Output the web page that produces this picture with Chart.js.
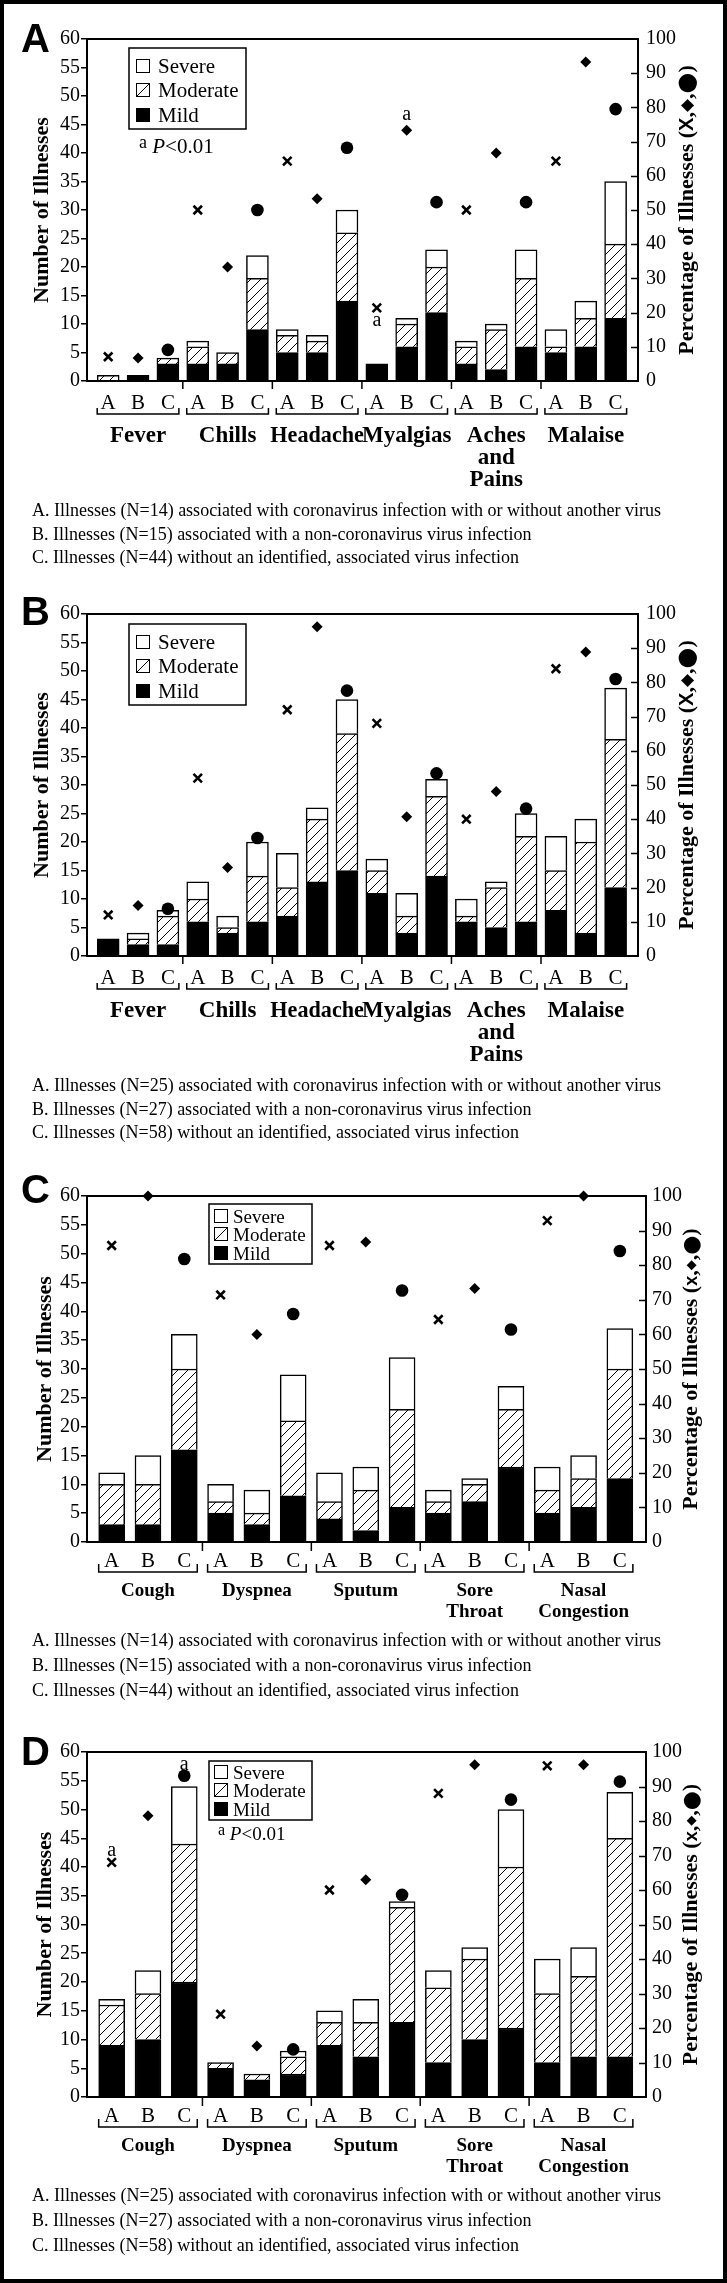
<!DOCTYPE html>
<html>
<head>
<meta charset="utf-8">
<script src="https://cdn.jsdelivr.net/npm/chart.js@4.4.0/dist/chart.umd.min.js"></script>
<style>
  html, body { margin: 0; padding: 0; background: #fff; }
  #page { position: relative; width: 727px; height: 2283px; overflow: hidden; background: #fff; }
  #page canvas { position: absolute; left: 0; }
  #frame { position: absolute; left: 0; top: 0; width: 727px; height: 2283px; box-sizing: border-box; border: 4px solid #000; pointer-events: none; }
</style>
</head>
<body>
<div id="page">
  <canvas id="panelA" width="727" height="570" style="top:0px"></canvas>
  <canvas id="panelB" width="727" height="578" style="top:570px"></canvas>
  <canvas id="panelC" width="727" height="557" style="top:1148px"></canvas>
  <canvas id="panelD" width="727" height="578" style="top:1705px"></canvas>
  <div id="frame"></div>
</div>
<script>
// ==== Data ====
const barLetters = ['A', 'B', 'C'];
const systemicSymptoms = [['Fever'], ['Chills'], ['Headache'], ['Myalgias'], ['Aches', 'and', 'Pains'], ['Malaise']];
const respiratorySymptoms = [['Cough'], ['Dyspnea'], ['Sputum'], ['Sore', 'Throat'], ['Nasal', 'Congestion']];

// bars are listed symptom by symptom, A B C inside each symptom
const aMild     = [0, 1, 3,  3, 3, 9,  5, 5, 14,  3, 6, 12,  3, 2, 6,  5, 6, 11];
const aModerate = [1, 0, 1,  3, 2, 9,  3, 2, 12,  0, 4, 8,   3, 7, 12, 1, 5, 13];
const aSevere   = [0, 0, 0,  1, 0, 4,  1, 1, 4,   0, 1, 3,   1, 1, 5,  3, 3, 11];
const aPctX       = [7.1, 50, 64.3, 21.4, 50, 64.3];
const aPctDiamond = [6.7, 33.3, 53.3, 73.3, 66.7, 93.3];
const aPctCircle  = [9.1, 50, 68.2, 52.3, 52.3, 79.5];

const bMild     = [3, 2, 2,  6, 4, 6,  7, 13, 15,  11, 4, 14,  6, 5, 6,   8, 4, 12];
const bModerate = [0, 1, 5,  4, 1, 8,  5, 11, 24,  4, 3, 14,   1, 7, 15,  7, 16, 26];
const bSevere   = [0, 1, 1,  3, 2, 6,  6, 2, 6,    2, 4, 3,    3, 1, 4,   6, 4, 9];
const bPctX       = [12, 52, 72, 68, 40, 84];
const bPctDiamond = [14.8, 25.9, 96.3, 40.7, 48.1, 88.9];
const bPctCircle  = [13.8, 34.5, 77.6, 53.4, 43.1, 81.0];

const cMild     = [3, 3, 16,  5, 3, 8,   4, 2, 6,   5, 7, 13,  5, 6, 11];
const cModerate = [7, 7, 14,  2, 2, 13,  3, 7, 17,  2, 3, 10,  4, 5, 19];
const cSevere   = [2, 5, 6,   3, 4, 8,   5, 4, 9,   2, 1, 4,   4, 4, 7];
const cPctX       = [85.7, 71.4, 85.7, 64.3, 92.9];
const cPctDiamond = [100, 60, 86.7, 73.3, 100];
const cPctCircle  = [81.8, 65.9, 72.7, 61.4, 84.1];

const dMild     = [9, 10, 20,  5, 3, 4,  9, 7, 13,  6, 10, 12,  6, 7, 7];
const dModerate = [7, 8, 24,   1, 1, 3,  4, 6, 20,  13, 14, 28, 12, 14, 38];
const dSevere   = [1, 4, 10,   0, 0, 1,  2, 4, 1,   3, 2, 10,  6, 5, 8];
const dPctX       = [68, 24, 60, 88, 96];
const dPctDiamond = [81.5, 14.8, 63, 96.3, 96.3];
const dPctCircle  = [93.1, 13.8, 58.6, 86.2, 91.4];

const notes14 = [
  'A. Illnesses (N=14) associated with coronavirus infection with or without another virus',
  'B. Illnesses (N=15) associated with a non-coronavirus virus infection',
  'C. Illnesses (N=44) without an identified, associated virus infection'
];
const notes25 = [
  'A. Illnesses (N=25) associated with coronavirus infection with or without another virus',
  'B. Illnesses (N=27) associated with a non-coronavirus virus infection',
  'C. Illnesses (N=58) without an identified, associated virus infection'
];
const legendLabels = ['Severe', 'Moderate', 'Mild'];

// ==== Fonts / defaults ====
const SERIF = "'Liberation Serif', 'Times New Roman', serif";
const SANS = "'Liberation Sans', Arial, sans-serif";
const SYM = "'DejaVu Sans', sans-serif";
Chart.defaults.font.family = SERIF;
Chart.defaults.color = '#000';

// ==== Layout of each panel ====
const wide = {
  xPad: [-0.71, 0.75], barW: 22, y2Pad: 8,
  letterY: 28, bracketY: 33, tip: 6, sepTick: 8,
  labelY: [61, 83, 105], labelFont: 23, noteY: [135, 159, 182],
  leftTitleX: 40, rightTitleX: 685,
  legendFont: 21, swatchX: 7, legendTextX: 29, big: true
};
const narrow = {
  xPad: [-0.68, 0.72], barW: 26, y2Pad: 6,
  letterY: 25, bracketY: 30, tip: 8, sepTick: 9,
  labelY: [54, 75], labelFont: 19, noteY: [104, 129, 154],
  leftTitleX: 43, rightTitleX: 689,
  legendFont: 19, swatchX: 5, legendTextX: 24, big: false
};

const panels = [
  Object.assign({}, wide, {
    id: 'panelA', letter: 'A', letterBase: 52,
    plot: { l: 87, r: 638, t: 39, b: 381 },
    groups: systemicSymptoms, mild: aMild, moderate: aModerate, severe: aSevere,
    pctX: aPctX, pctD: aPctDiamond, pctC: aPctCircle, notes: notes14,
    legend: { x: 129, y: 48, w: 117, h: 81, rows: [18, 42, 67] },
    pNote: { x: 139, y: 153, size: 21 },
    marks: [{ bar: 9, set: 'X', g: 3, dy: 14 }, { bar: 10, set: 'D', g: 3, dy: -14 }]
  }),
  Object.assign({}, wide, {
    id: 'panelB', letter: 'B', letterBase: 55,
    plot: { l: 87, r: 638, t: 44, b: 386 },
    groups: systemicSymptoms, mild: bMild, moderate: bModerate, severe: bSevere,
    pctX: bPctX, pctD: bPctDiamond, pctC: bPctCircle, notes: notes25,
    legend: { x: 129, y: 54, w: 117, h: 81, rows: [18, 42, 67] },
    pNote: null, marks: []
  }),
  Object.assign({}, narrow, {
    id: 'panelC', letter: 'C', letterBase: 55,
    plot: { l: 87, r: 646, t: 48, b: 394 },
    groups: respiratorySymptoms, mild: cMild, moderate: cModerate, severe: cSevere,
    pctX: cPctX, pctD: cPctDiamond, pctC: cPctCircle, notes: notes14,
    legend: { x: 209, y: 56, w: 103, h: 60, rows: [12, 30, 49] },
    pNote: null, marks: []
  }),
  Object.assign({}, narrow, {
    id: 'panelD', letter: 'D', letterBase: 60,
    plot: { l: 87, r: 646, t: 47, b: 392 },
    groups: respiratorySymptoms, mild: dMild, moderate: dModerate, severe: dSevere,
    pctX: dPctX, pctD: dPctDiamond, pctC: dPctCircle, notes: notes25,
    legend: { x: 209, y: 56, w: 103, h: 59, rows: [11, 29, 48] },
    pNote: { x: 218, y: 135, size: 19 },
    marks: [{ bar: 0, set: 'X', g: 0, dy: -10 }, { bar: 2, set: 'C', g: 0, dy: -10 }]
  })
];

// ==== Helpers ====
function makeHatch(ctx) {
  const c = document.createElement('canvas');
  c.width = 10; c.height = 10;
  const g = c.getContext('2d');
  g.fillStyle = '#fff';
  g.fillRect(0, 0, 10, 10);
  g.strokeStyle = '#000';
  g.lineWidth = 1;
  g.beginPath();
  g.moveTo(0, 10); g.lineTo(10, 0);
  g.moveTo(-2, 2); g.lineTo(2, -2);
  g.moveTo(8, 12); g.lineTo(12, 8);
  g.stroke();
  return ctx.createPattern(c, 'repeat');
}

function line(ctx, x0, y0, x1, y1) {
  ctx.beginPath();
  ctx.moveTo(x0, y0);
  ctx.lineTo(x1, y1);
  ctx.stroke();
}

function text(ctx, s, x, y, font, align, maxW) {
  ctx.font = font;
  ctx.textAlign = align || 'left';
  ctx.textBaseline = 'alphabetic';
  if (maxW) ctx.fillText(s, x, y, maxW);
  else ctx.fillText(s, x, y);
}

// draws a list of [text, font, baseline shift] runs one after the other
function runs(ctx, parts, x, y) {
  let cx = x;
  parts.forEach(([s, font, dy]) => {
    ctx.font = font;
    ctx.textAlign = 'left';
    ctx.textBaseline = 'alphabetic';
    ctx.fillText(s, cx, y + (dy || 0));
    cx += ctx.measureText(s).width;
  });
  return cx - x;
}

function runsWidth(ctx, parts) {
  return parts.reduce((w, [s, font]) => { ctx.font = font; return w + ctx.measureText(s).width; }, 0);
}

// ==== Decorations: frame, x labels, legend, titles, notes ====
function decor(p) {
  return {
    id: 'decor',
    afterDraw(chart) {
      const { ctx, chartArea: a } = chart;
      const x = chart.scales.x, y2 = chart.scales.y2;
      const zero = a.bottom;
      ctx.save();
      ctx.strokeStyle = '#000';
      ctx.fillStyle = '#000';

      // plot frame
      ctx.lineWidth = 2;
      ctx.strokeRect(a.left, a.top, a.right - a.left, a.bottom - a.top);

      // right axis ticks point inwards
      ctx.lineWidth = 1.5;
      for (let v = 10; v < 100; v += 10) {
        const yy = Math.round(y2.getPixelForValue(v)) + 0.5;
        line(ctx, a.right - 7, yy, a.right, yy);
      }

      // group separators under the axis
      for (let g = 1; g < p.groups.length; g++) {
        const xx = x.getPixelForValue(g * 3 - 0.5);
        line(ctx, xx, zero, xx, zero + p.sepTick);
      }

      // A B C letters, brackets and symptom names
      const half = p.barW / 2;
      const slot = x.getPixelForValue(1) - x.getPixelForValue(0);
      p.groups.forEach((names, g) => {
        barLetters.forEach((b, k) => {
          text(ctx, b, x.getPixelForValue(g * 3 + k), zero + p.letterY, '21px ' + SERIF, 'center');
        });
        const x0 = x.getPixelForValue(g * 3) - half;
        const x1 = x.getPixelForValue(g * 3 + 2) + half;
        const by = zero + p.bracketY;
        ctx.lineWidth = 1.5;
        ctx.beginPath();
        ctx.moveTo(x0, by - p.tip); ctx.lineTo(x0, by); ctx.lineTo(x1, by); ctx.lineTo(x1, by - p.tip);
        ctx.stroke();
        const cx = x.getPixelForValue(g * 3 + 1);
        names.forEach((s, j) => {
          text(ctx, s, cx, zero + p.labelY[j], 'bold ' + p.labelFont + 'px ' + SERIF, 'center', slot * 3 + 4);
        });
      });

      // footnotes, squeezed like the original
      ctx.font = '18px ' + SERIF;
      const sx = Math.min(1, 659 / ctx.measureText(p.notes[0]).width);
      p.notes.forEach((s, k) => {
        ctx.save();
        ctx.translate(32, zero + p.noteY[k]);
        ctx.scale(sx, 1);
        text(ctx, s, 0, 0, '18px ' + SERIF, 'left');
        ctx.restore();
      });

      // panel letter
      text(ctx, p.letter, 21, p.letterBase, 'bold 40px ' + SANS, 'left');

      // left axis title
      const midY = (a.top + a.bottom) / 2;
      ctx.save();
      ctx.translate(p.leftTitleX, midY);
      ctx.rotate(-Math.PI / 2);
      text(ctx, 'Number of Illnesses', 0, 7.5, 'bold 22px ' + SERIF, 'center');
      ctx.restore();

      // right axis title with marker glyphs
      const tf = 'bold 22px ' + SERIF;
      const title = p.big ? [
        ['Percentage of Illnesses (', tf, 0],
        ['X', 'bold 20px ' + SANS, 0],
        [',', tf, 0],
        ['\u25C6', '17px ' + SYM, -1],
        [',', tf, 0],
        ['\u25CF', '24px ' + SYM, 1],
        [')', tf, 0]
      ] : [
        ['Percentage of Illnesses (', tf, 0],
        ['x', 'bold 18px ' + SANS, 0],
        [',', tf, 0],
        ['\u25C6', '13px ' + SYM, -2],
        [',', tf, 0],
        ['\u25CF', '22px ' + SYM, 1],
        [')', tf, 0]
      ];
      ctx.save();
      ctx.translate(p.rightTitleX, midY);
      ctx.rotate(-Math.PI / 2);
      runs(ctx, title, -runsWidth(ctx, title) / 2, 7.5);
      ctx.restore();

      // legend box
      const L = p.legend;
      ctx.fillStyle = '#fff';
      ctx.fillRect(L.x, L.y, L.w, L.h);
      ctx.fillStyle = '#000';
      ctx.lineWidth = 1.5;
      ctx.strokeRect(L.x, L.y, L.w, L.h);
      legendLabels.forEach((s, k) => {
        const ry = L.y + L.rows[k];
        const sx0 = L.x + p.swatchX, sy0 = ry - 7;
        ctx.lineWidth = 1;
        if (k === 2) {
          ctx.fillRect(sx0, sy0, 14, 14);
        } else {
          ctx.strokeRect(sx0 + 0.5, sy0 + 0.5, 13, 13);
          if (k === 1) line(ctx, sx0 + 1, sy0 + 13, sx0 + 13, sy0 + 1);
        }
        text(ctx, s, L.x + p.legendTextX, ry + 7, p.legendFont + 'px ' + SERIF, 'left');
      });

      // significance note
      if (p.pNote) {
        const n = p.pNote;
        runs(ctx, [
          ['a', (n.size - 3) + 'px ' + SERIF, -5],
          [' ', n.size + 'px ' + SERIF, 0],
          ['P', 'italic ' + n.size + 'px ' + SERIF, 0],
          ['<0.01', n.size + 'px ' + SERIF, 0]
        ], n.x, n.y);
      }

      // "a" marks next to markers
      const sets = { X: p.pctX, D: p.pctD, C: p.pctC };
      p.marks.forEach(m => {
        const px = x.getPixelForValue(m.bar);
        const py = y2.getPixelForValue(sets[m.set][m.g]);
        text(ctx, 'a', px, py + m.dy + 4, '20px ' + SERIF, 'center');
      });

      ctx.restore();
    }
  };
}

// ==== Chart building ====
function buildPanel(p) {
  const canvas = document.getElementById(p.id);
  const ctx = canvas.getContext('2d');
  const W = canvas.width, H = canvas.height;
  const hatch = makeHatch(ctx);
  const n = p.mild.length;

  const barPts = vals => vals.map((v, i) => ({ x: i, y: v }));
  const markPts = (vals, k) => vals.map((v, g) => ({ x: g * 3 + k, y: v }));

  const barBase = {
    type: 'bar', yAxisID: 'y', stack: 'n', order: 1,
    borderColor: '#000', borderWidth: 1.5, barThickness: p.barW
  };
  const markBase = {
    type: 'line', yAxisID: 'y2', showLine: false, clip: false, order: 0,
    pointBackgroundColor: '#000', pointBorderColor: '#000'
  };

  new Chart(canvas, {
    type: 'bar',
    data: {
      datasets: [
        Object.assign({}, barBase, { label: 'Mild', data: barPts(p.mild), backgroundColor: '#000' }),
        Object.assign({}, barBase, { label: 'Moderate', data: barPts(p.moderate), backgroundColor: hatch }),
        Object.assign({}, barBase, { label: 'Severe', data: barPts(p.severe), backgroundColor: '#fff' }),
        Object.assign({}, markBase, { label: 'x', data: markPts(p.pctX, 0), pointStyle: 'crossRot', pointRadius: 6, pointBorderWidth: 2.6 }),
        Object.assign({}, markBase, { label: 'diamond', data: markPts(p.pctD, 1), pointStyle: 'rectRot', pointRadius: 5.5, pointBorderWidth: 0 }),
        Object.assign({}, markBase, { label: 'circle', data: markPts(p.pctC, 2), pointStyle: 'circle', pointRadius: 6.3, pointBorderWidth: 0 })
      ]
    },
    options: {
      responsive: false,
      animation: false,
      events: [],
      layout: { padding: { top: p.plot.t, bottom: H - p.plot.b, left: 0, right: 0 } },
      plugins: { legend: { display: false }, tooltip: { enabled: false } },
      scales: {
        x: { type: 'linear', display: false, offset: false, stacked: true, min: p.xPad[0], max: n - 1 + p.xPad[1] },
        y: {
          position: 'left', stacked: true, min: 0, max: 60,
          afterFit: s => { s.width = p.plot.l; },
          ticks: { stepSize: 5, autoSkip: false, padding: 1, font: { size: 20 }, color: '#000' },
          grid: { drawOnChartArea: false, drawTicks: true, tickLength: 6, color: '#000', lineWidth: 1.5 },
          border: { display: false }
        },
        y2: {
          position: 'right', min: 0, max: 100,
          afterFit: s => { s.width = W - p.plot.r; },
          ticks: { stepSize: 10, autoSkip: false, padding: p.y2Pad, font: { size: 20 }, color: '#000' },
          grid: { display: false, drawTicks: false },
          border: { display: false }
        }
      }
    },
    plugins: [decor(p)]
  });
}

panels.forEach(buildPanel);
</script>
</body>
</html>
